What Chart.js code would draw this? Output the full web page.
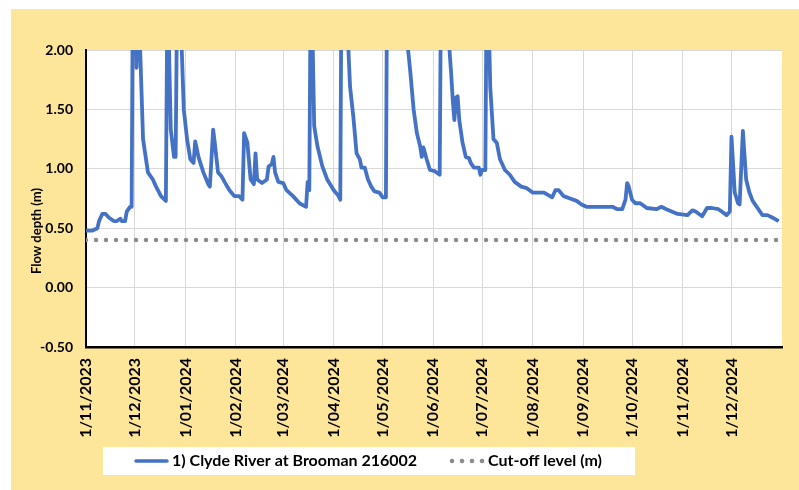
<!DOCTYPE html>
<html>
<head>
<meta charset="utf-8">
<script src="https://cdn.jsdelivr.net/npm/chart.js@4.4.1/dist/chart.umd.min.js"></script>
<style>
  html, body { margin: 0; padding: 0; background: #fff; }
  #wrap { width: 799px; height: 490px; }
</style>
</head>
<body>
<div id="wrap"><canvas id="chart" width="799" height="490"></canvas></div>
<script>
// days since 1/11/2023 (daily gauge readings)
const days = [0, 4, 7, 8, 10, 12, 14, 17, 19, 21, 22, 24, 25, 27, 28, 29, 30, 31, 32, 33, 35, 38, 41, 43, 46, 49,
  50, 52, 54, 55, 56, 57, 58, 60, 62, 64, 66, 67, 69, 72, 75, 76, 78, 79, 81, 83, 85, 88, 91, 94, 96,
  97, 99, 101, 103, 104, 105, 108, 111, 112, 114, 115, 116, 118, 121, 123, 127, 131, 135, 136, 137,
  138, 139, 140, 142, 145, 148, 152, 155, 156, 157, 159, 161, 162, 164, 166, 168, 169, 171, 173, 175,
  177, 180, 182, 184, 185, 187, 190, 193, 196, 198, 199, 201, 203, 205, 206, 207, 209, 211, 214, 217,
  218, 220, 222, 223, 224, 225, 226, 227, 228, 229, 231, 233, 235, 236, 238, 241, 242, 243, 245,
  246, 247, 248, 250, 252, 254, 257, 260, 263, 267, 270, 274, 281, 286, 288, 290, 293, 297, 301, 304,
  307, 315, 320, 323, 326, 329, 331, 332, 333, 335, 337, 340, 344, 350, 353, 356, 363, 369, 372, 374,
  378, 381, 384, 388, 390, 393, 395, 396, 398, 400, 401, 403, 405, 407, 409, 412, 415, 418, 421, 425];

// flow depth (m) at Clyde River at Brooman 216002
const depth = [0.48, 0.48, 0.50, 0.56, 0.62, 0.62, 0.59, 0.56, 0.56, 0.58, 0.56, 0.56, 0.64, 0.68, 0.68, 3.20, 2.60, 1.85, 2.40, 2.10, 1.25, 0.97, 0.91, 0.85, 0.77, 0.73,
  2.60, 1.33, 1.10, 1.10, 2.60, 3.00, 2.30, 1.50, 1.25, 1.08, 1.05, 1.23, 1.10, 0.97, 0.87, 0.85, 1.33, 1.22, 0.97, 0.94, 0.89, 0.82, 0.77, 0.77, 0.74,
  1.30, 1.22, 0.91, 0.87, 1.13, 0.91, 0.88, 0.91, 1.02, 1.04, 1.10, 0.97, 0.89, 0.88, 0.82, 0.77, 0.71, 0.68, 0.89, 0.82,
  2.90, 2.10, 1.36, 1.19, 1.02, 0.91, 0.82, 0.77, 0.74, 3.30, 2.80, 2.00, 1.69, 1.44, 1.13, 1.08, 1.01, 1.01, 0.91, 0.85,
  0.81, 0.80, 0.76, 0.76, 3.40, 3.80, 3.20, 2.60, 2.20, 1.95, 1.81, 1.50, 1.30, 1.19, 1.10, 1.18, 1.08, 0.99, 0.98, 0.95,
  3.00, 2.70, 2.30, 2.00, 1.81, 1.58, 1.41, 1.60, 1.61, 1.41, 1.22, 1.10, 1.09, 1.05, 1.01, 1.01, 0.95, 0.99, 0.99,
  3.00, 2.30, 1.69, 1.25, 1.22, 1.08, 0.99, 0.95, 0.89, 0.85, 0.84, 0.80, 0.80, 0.76, 0.82, 0.82, 0.77, 0.75, 0.73, 0.70,
  0.68, 0.68, 0.68, 0.68, 0.66, 0.66, 0.74, 0.88, 0.85, 0.74, 0.71, 0.71, 0.67, 0.66, 0.68, 0.66, 0.62, 0.61, 0.65, 0.64,
  0.60, 0.67, 0.67, 0.66, 0.64, 0.61, 0.64, 1.27, 0.80, 0.71, 0.70, 1.32, 0.91, 0.80, 0.73, 0.67, 0.61, 0.61, 0.59, 0.56];

const cutOff = 0.40;
const lastDay = 427;

// month starts (days since 1/11/2023) and their labels
const monthDays = [0, 30, 61, 92, 121, 152, 182, 213, 243, 274, 305, 335, 366, 396];
const monthLabels = ['1/11/2023', '1/12/2023', '1/01/2024', '1/02/2024', '1/03/2024', '1/04/2024', '1/05/2024',
  '1/06/2024', '1/07/2024', '1/08/2024', '1/09/2024', '1/10/2024', '1/11/2024', '1/12/2024'];

const yTicks = [-0.5, 0, 0.5, 1.0, 1.5, 2.0];

const seriesName = '1) Clyde River at Brooman 216002';
const cutOffName = 'Cut-off level (m)';
const yTitle = 'Flow depth (m)';

Chart.defaults.font.family = 'Lato, "Open Sans", sans-serif';
Chart.defaults.color = '#000';

const blue = '#4472C4';
const grey = '#8C8C8C';

// page background, yellow frame, white plot area, y title and legend
const decor = {
  id: 'decor',
  beforeDraw(chart) {
    const ctx = chart.ctx;
    const a = chart.chartArea;
    ctx.save();
    ctx.fillStyle = '#fff';
    ctx.fillRect(0, 0, chart.width, chart.height);
    ctx.fillStyle = '#FDE59A';
    ctx.fillRect(11, 9, chart.width - 11, chart.height - 9);
    ctx.fillStyle = '#fff';
    ctx.fillRect(a.left, a.top, a.right - a.left, a.bottom - a.top);
    ctx.restore();
  },
  afterDraw(chart) {
    const ctx = chart.ctx;
    ctx.save();
    // y axis title
    ctx.translate(37, 231);
    ctx.rotate(-Math.PI / 2);
    ctx.font = 'bold 13px Lato';
    ctx.fillStyle = '#000';
    ctx.textAlign = 'center';
    ctx.textBaseline = 'middle';
    ctx.fillText(yTitle, 0, 0);
    ctx.restore();

    // legend box
    ctx.save();
    ctx.fillStyle = '#fff';
    ctx.fillRect(103, 447, 532, 28);
    const ly = 461;
    ctx.strokeStyle = blue;
    ctx.lineWidth = 3.5;
    ctx.lineCap = 'round';
    ctx.beginPath();
    ctx.moveTo(136, ly);
    ctx.lineTo(167, ly);
    ctx.stroke();
    ctx.font = 'bold 16px Lato';
    ctx.fillStyle = '#000';
    ctx.textBaseline = 'middle';
    ctx.fillText(chart.data.datasets[0].label, 172, ly);
    ctx.fillStyle = grey;
    for (let i = 0; i < 4; i++) {
      ctx.beginPath();
      ctx.arc(452 + i * 10, ly, 2.3, 0, Math.PI * 2);
      ctx.fill();
    }
    ctx.fillStyle = '#000';
    ctx.fillText(chart.data.datasets[1].label, 488, ly);
    ctx.restore();
  }
};

new Chart(document.getElementById('chart'), {
  type: 'line',
  data: {
    datasets: [{
      label: seriesName,
      data: days.map((d, i) => ({ x: d, y: depth[i] })),
      borderColor: blue,
      backgroundColor: blue,
      borderWidth: 3.8,
      pointRadius: 0,
      tension: 0,
      borderJoinStyle: 'round'
    }, {
      label: cutOffName,
      data: [{ x: 0, y: cutOff }, { x: lastDay, y: cutOff }],
      borderColor: grey,
      backgroundColor: grey,
      borderWidth: 4.5,
      borderDash: [0, 10],
      borderCapStyle: 'round',
      pointRadius: 0
    }]
  },
  options: {
    responsive: false,
    animation: false,
    layout: { padding: { top: 50, right: 17, left: 0, bottom: 0 } },
    plugins: {
      legend: { display: false },
      tooltip: { enabled: false }
    },
    scales: {
      x: {
        type: 'linear',
        min: 0,
        max: lastDay,
        afterBuildTicks: (scale) => { scale.ticks = monthDays.map(v => ({ value: v })); },
        afterFit: (scale) => { scale.height = 143; },
        grid: { color: '#D9D9D9', lineWidth: 1, drawTicks: false },
        border: { color: '#000', width: 2.5 },
        ticks: {
          autoSkip: false,
          maxRotation: 90,
          minRotation: 90,
          padding: 11,
          font: { size: 16, weight: 'bold' },
          callback: (value, index) => monthLabels[index]
        }
      },
      y: {
        min: -0.5,
        max: 2.0,
        afterBuildTicks: (scale) => { scale.ticks = yTicks.map(v => ({ value: v })); },
        afterFit: (scale) => { scale.width = 86; },
        grid: { color: '#D9D9D9', lineWidth: 1, drawTicks: false },
        border: { color: '#000', width: 2 },
        ticks: {
          padding: 13,
          font: { size: 14, weight: 'bold' },
          callback: (value) => value.toFixed(2)
        }
      }
    }
  },
  plugins: [decor]
});
</script>
</body>
</html>
